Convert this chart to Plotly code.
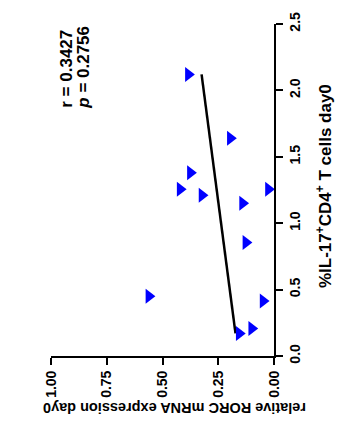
import numpy as np
import plotly.graph_objects as go

# Data (original chart is rotated 90° CCW in the reference)
il17_pct = [2.12, 1.64, 1.38, 1.255, 1.21, 1.255, 1.15, 0.855, 0.45, 0.414, 0.207, 0.17]
rorc_rel = [0.384, 0.196, 0.375, 0.421, 0.323, 0.025, 0.141, 0.126, 0.561, 0.049, 0.10, 0.156]

rorc_ticks = [0.0, 0.25, 0.5, 0.75, 1.0]
rorc_ticklabels = ["0.00", "0.25", "0.50", "0.75", "1.00"]
il17_ticks = [0.0, 0.5, 1.0, 1.5, 2.0, 2.5]
il17_ticklabels = ["0.0", "0.5", "1.0", "1.5", "2.0", "2.5"]

r_text = "r = 0.3427"
p_text = "<i>p</i> = 0.2756"
x_title = "%IL-17<sup>+</sup>CD4<sup>+</sup> T cells day0"
y_title = "relative RORC mRNA expression day0"

# linear regression of RORC on IL-17
slope, intercept = np.polyfit(il17_pct, rorc_rel, 1)
line_il = np.array([min(il17_pct), max(il17_pct)])
line_rorc = slope * line_il + intercept

W, H = 339, 421
L, R, T, B = 51, 65, 22, 65
pw, ph = W - L - R, H - T - B


def px(x):
    return (x - L) / pw


def py(y):
    return (H - B - y) / ph


font_family = "Liberation Sans, Arial, sans-serif"

fig = go.Figure()
fig.add_trace(go.Scatter(
    x=line_rorc, y=line_il, mode="lines",
    line=dict(color="black", width=2.5), showlegend=False, hoverinfo="skip"))
fig.add_trace(go.Scatter(
    x=rorc_rel, y=il17_pct, mode="markers",
    marker=dict(symbol="triangle-right", size=13, color="#0000FF"),
    showlegend=False, cliponaxis=False))

fig.update_layout(
    width=W, height=H,
    margin=dict(l=L, r=R, t=T, b=B),
    paper_bgcolor="white", plot_bgcolor="white",
    font=dict(family=font_family, color="black"),
    xaxis=dict(
        range=[1.0, 0.0], tickmode="array", tickvals=rorc_ticks, ticktext=rorc_ticklabels,
        tickangle=-90, ticks="outside", ticklen=7, tickwidth=2, tickcolor="black",
        showline=True, linecolor="black", linewidth=2, showgrid=False, zeroline=False,
        tickfont=dict(size=14, weight="bold", color="black"), side="bottom"),
    yaxis=dict(
        range=[0, 2.5], tickmode="array", tickvals=il17_ticks, ticktext=il17_ticklabels,
        tickangle=-90, ticks="outside", ticklen=7, tickwidth=2, tickcolor="black",
        showline=True, linecolor="black", linewidth=2, showgrid=False, zeroline=False,
        tickfont=dict(size=14, weight="bold", color="black"), side="right"),
    annotations=[
        dict(text=r_text, x=px(67), y=py(67), xref="paper", yref="paper",
             showarrow=False, textangle=-90, xanchor="center", yanchor="middle",
             font=dict(size=17, weight="bold", color="black")),
        dict(text=p_text, x=px(84), y=py(66), xref="paper", yref="paper",
             showarrow=False, textangle=-90, xanchor="center", yanchor="middle",
             font=dict(size=17, weight="bold", color="black")),
        dict(text=x_title, x=px(324), y=py(185), xref="paper", yref="paper",
             showarrow=False, textangle=-90, xanchor="center", yanchor="middle",
             font=dict(size=17, weight="bold", color="black")),
        dict(text=y_title, x=px(175), y=py(409), xref="paper", yref="paper",
             showarrow=False, textangle=180, xanchor="center", yanchor="middle",
             font=dict(size=14.5, weight="bold", color="black")),
    ],
)

fig.write_html("out.html",
               config={"displayModeBar": False},
               post_script="document.body.style.margin='0';document.body.style.overflow='hidden';")
